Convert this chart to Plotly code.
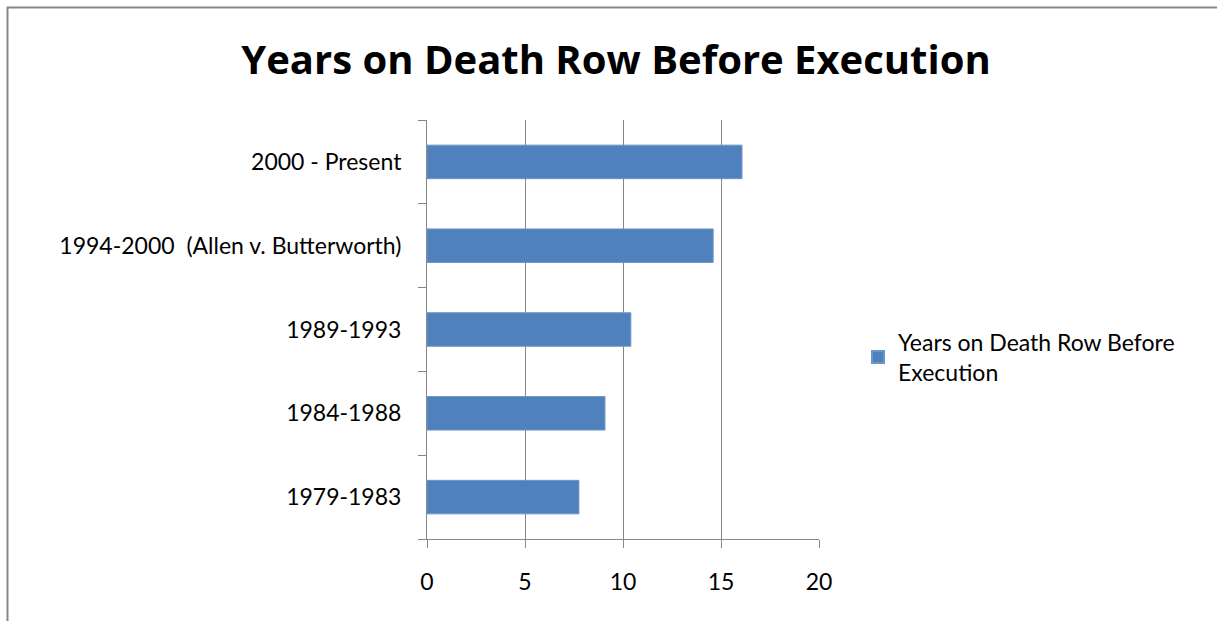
import plotly.graph_objects as go

categories = ["1979-1983", "1984-1988", "1989-1993", "1994-2000  (Allen v. Butterworth)", "2000 - Present"]
values = [7.75, 9.08, 10.4, 14.6, 16.07]
x_ticks = [0, 5, 10, 15, 20]
series_name = "Years on Death Row Before<br>Execution"
title = "Years on Death Row Before Execution"

W, H = 1217, 621
L, R, T, B = 427, 819, 120, 539

fig = go.Figure()
fig.add_trace(go.Bar(
    y=categories, x=values, orientation="h", name=series_name,
    marker=dict(color="#4F81BD", line=dict(color="#6D96C8", width=1)),
    showlegend=True,
))

def px_x(p):
    return (p - L) / (R - L)

def px_y(p):
    return (B - p) / (B - T)

fig.update_layout(
    width=W, height=H,
    margin=dict(l=L, r=W - R, t=T, b=H - B, pad=0),
    paper_bgcolor="white", plot_bgcolor="white",
    font=dict(family="Lato", size=23, color="black"),
    title=dict(text="<b>" + title + "</b>", x=px_x(616), xref="paper", xanchor="center",
               y=1 - 60 / H, yanchor="middle", font=dict(size=40, family="Open Sans", color="black")),
    bargap=0.6,
    showlegend=True,
    legend=dict(x=px_x(858), xanchor="left", y=px_y(357), yanchor="middle",
                font=dict(size=23, family="Lato"), itemsizing="constant",
                tracegroupgap=0, bgcolor="rgba(0,0,0,0)"),
    xaxis=dict(range=[0, 20], tickvals=x_ticks, ticktext=[str(v) for v in x_ticks],
               showgrid=True, gridcolor="#878787", gridwidth=1,
               showline=True, linecolor="#878787", linewidth=1,
               ticks="outside", ticklen=8, tickcolor="#878787", tickwidth=1,
               ticklabelstandoff=14, zeroline=False, fixedrange=True,
               tickfont=dict(size=23)),
    yaxis=dict(categoryorder="array", categoryarray=categories,
               showline=True, linecolor="#878787", linewidth=1,
               ticks="outside", ticklen=8, tickcolor="#878787", tickwidth=1,
               tickson="boundaries", showgrid=False, ticklabelstandoff=20,
               tickfont=dict(size=23)),
    shapes=[dict(type="rect", xref="paper", yref="paper",
                 x0=px_x(7.5), x1=px_x(1240), y0=px_y(7.5), y1=px_y(650),
                 line=dict(color="#878787", width=2), layer="below")],
)

fig.write_html("out.html")
